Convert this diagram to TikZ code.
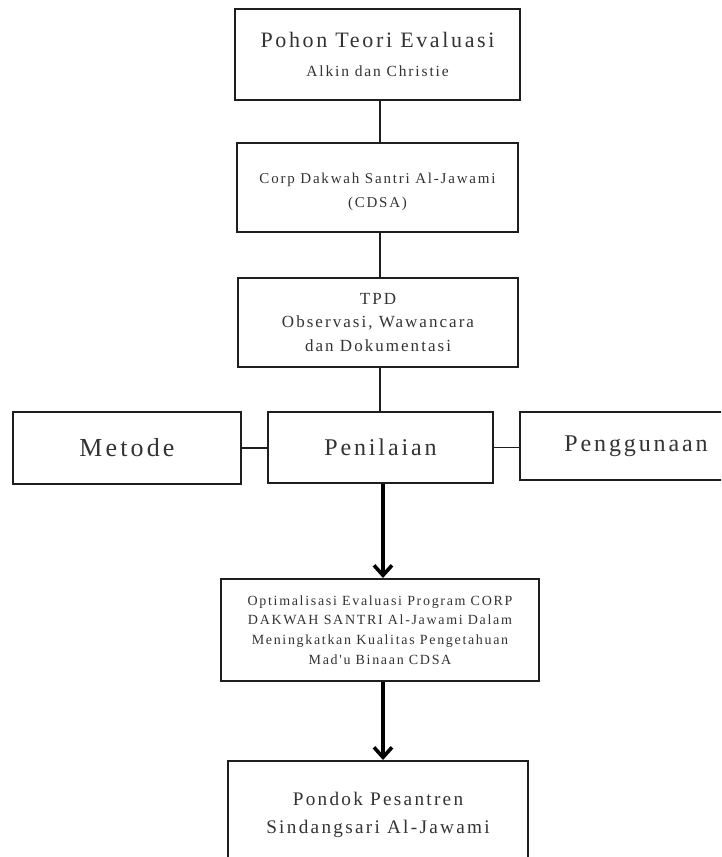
\documentclass[tikz,border=0pt]{standalone}
\usepackage{fontspec}
\setmainfont{Liberation Serif}
\newfontfamily\spaced[LetterSpace=12]{Liberation Serif}
\usetikzlibrary{arrows.meta,calc}
\definecolor{txt}{HTML}{333333}
\definecolor{edge}{HTML}{1E1E1E}
\tikzset{
  box/.style={draw=edge, line width=2pt, fill=white, inner sep=0pt, align=center, text=txt},
  link/.style={draw=edge, line width=2.2pt},
  thin link/.style={draw=edge, line width=1.3pt},
  flow/.style={draw=black, line width=3.6pt, -{Straight Barb[length=10pt,width=18pt]}},
}
\begin{document}
\begin{tikzpicture}[x=1pt,y=-1pt]
\useasboundingbox (0,0) rectangle (721,857);
\clip (0,0) rectangle (721,857);
\fill[white] (0,0) rectangle (721,857);
\coordinate (axis) at (380,0);
\coordinate (axisb) at (383,0);

\node[box, minimum width=285pt, minimum height=91pt,
      font=\spaced\fontsize{22}{29.5}\selectfont] (b1) at (377.5,54.5)
  {Pohon Teori Evaluasi\\{\fontsize{15.5}{29.5}\selectfont Alkin dan Christie}};
\node[box, minimum width=281pt, minimum height=89pt] (b2) at (377.5,187.5) {};
\node[text=txt, align=center, inner sep=0pt,
      font=\spaced\fontsize{15}{24}\selectfont] (b2t) at (377.5,191.5)
  {Corp Dakwah Santri Al-Jawami\\(CDSA)};
\node[box, minimum width=280pt, minimum height=89pt,
      font=\spaced\fontsize{17}{23.5}\selectfont] (b3) at (378,322.5)
  {TPD\\Observasi, Wawancara\\dan Dokumentasi};

\node[box, minimum width=228pt, minimum height=72pt,
      font=\spaced\fontsize{26}{30}\selectfont] (met) at (127,448)
  {Metode};
\node[box, minimum width=225pt, minimum height=71pt,
      font=\spaced\fontsize{24}{28}\selectfont] (pen) at (380.5,447.5)
  {Penilaian};
\node[box, minimum width=232pt, minimum height=68pt,
      font=\spaced\fontsize{24}{28}\selectfont] (pgn) at (636,446)
  {Penggunaan};

\node[box, minimum width=318pt, minimum height=102pt,
      font=\spaced\fontsize{14}{19.7}\selectfont] (opt) at (380,630)
  {Optimalisasi Evaluasi Program CORP\\
   DAKWAH SANTRI Al-Jawami Dalam\\
   Meningkatkan Kualitas Pengetahuan\\
   Mad'u Binaan CDSA};

\node[box, minimum width=300pt, minimum height=140pt, anchor=north] (pon) at (378,760) {};
\node[text=txt, align=center, font=\spaced\fontsize{19.2}{28}\selectfont] (pont) at (378,815)
  {Pondok Pesantren\\Sindangsari Al-Jawami};

\draw[link] (b1.south -| axis) -- (b2.north -| axis);
\draw[link] (b2.south -| axis) -- (b3.north -| axis);
\draw[link] (b3.south -| axis) -- (pen.north -| axis);
\draw[thin link] (met.east) -- (met.east -| pen.west);
\draw[thin link] (pen.east) -- (pen.east -| pgn.west);
\draw[flow] (pen.south -| axisb) -- (opt.north -| axisb);
\draw[flow] (opt.south -| axisb) -- (pon.north -| axisb);
\end{tikzpicture}
\end{document}
